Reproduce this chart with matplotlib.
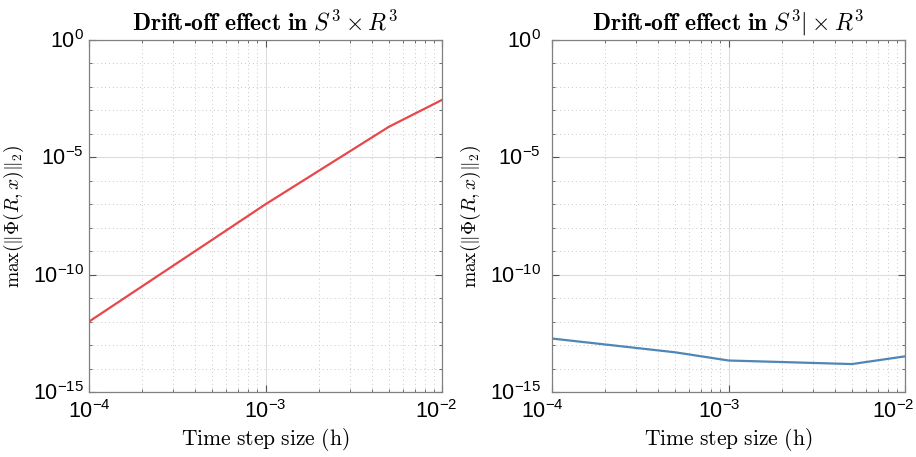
import matplotlib
matplotlib.use("Agg")
import matplotlib.pyplot as plt
import matplotlib.transforms as mtransforms
from matplotlib.ticker import LogLocator, FixedLocator, NullFormatter, LogFormatterSciNotation
import numpy as np

h = [1e-4, 5e-4, 1e-3, 5e-3, 1e-2]
err_left = [1.0e-12, 3.1e-9, 1.0e-7, 2.0e-4, 2.8e-3]
err_right = [1.9e-13, 4.9e-14, 2.2e-14, 1.55e-14, 3.3e-14]
titles = ["$\\mathbf{Drift\u2010off\\ effect\\ in}\\ S^3\\times R^3$",
          "$\\mathbf{Drift\u2010off\\ effect\\ in}\\ S^3|\\times R^3$"]
colors = ["#e8474a", "#4f86b6"]
xlabel = r"$\mathrm{Time\ step\ size\ (h)}$"
ylabel = r"$\max(\|\Phi(R,x)\|_2)$"

plt.rcParams["mathtext.fontset"] = "custom"
plt.rcParams["mathtext.rm"] = "Liberation Sans"
plt.rcParams["mathtext.it"] = "Liberation Sans:italic"
plt.rcParams["mathtext.bf"] = "Liberation Sans:bold"
plt.rcParams["font.family"] = "Liberation Sans"

fig = plt.figure(figsize=(9.16, 4.57), dpi=100)
positions = [[89/916, 65/457, 353/916, 352/457], [552/916, 65/457, 353/916, 352/457]]
series = [err_left, err_right]
xoffs = [[0, 0, -6], [-10, -9, -12]]
yoffs = [0, -6]
axes = []
for i in range(2):
    ax = fig.add_axes(positions[i])
    axes.append(ax)
    ax.plot(h, series[i], color=colors[i], lw=1.6)
    ax.set_xscale("log")
    ax.set_yscale("log")
    ax.set_xlim(1e-4, 1e-2)
    ax.set_ylim(1e-15, 1e0)
    ax.xaxis.set_major_locator(FixedLocator([1e-4, 1e-3, 1e-2]))
    ax.xaxis.set_minor_locator(LogLocator(base=10, subs=np.arange(2, 10)))
    ax.xaxis.set_minor_formatter(NullFormatter())
    ax.yaxis.set_major_locator(FixedLocator([1e-15, 1e-10, 1e-5, 1e0]))
    ax.yaxis.set_minor_locator(FixedLocator([10.0**k for k in range(-15, 1)]))
    ax.yaxis.set_minor_formatter(NullFormatter())
    ax.xaxis.set_major_formatter(LogFormatterSciNotation())
    ax.yaxis.set_major_formatter(LogFormatterSciNotation())
    ax.grid(True, which="major", color="#dcdcdc", lw=0.8, ls="-")
    ax.grid(True, which="minor", color="#c8c8c8", lw=0.7, ls=(0, (1, 3)))
    ax.set_axisbelow(True)
    ax.tick_params(which="both", direction="in", top=True, right=True, colors="#555555",
                   labelcolor="black", labelsize=15.5)
    ax.tick_params(axis="x", which="major", pad=6)
    ax.tick_params(which="major", length=5)
    ax.tick_params(which="minor", length=2.5)
    for s in ax.spines.values():
        s.set_color("#808080")
        s.set_linewidth(0.9)
    ax.set_title(titles[i], fontsize=17, math_fontfamily="cm", pad=7)
    ax.set_xlabel(xlabel, fontsize=15.5, math_fontfamily="cm", labelpad=2)
    ax.set_ylabel(ylabel, fontsize=14, math_fontfamily="cm", labelpad=5)

fig.canvas.draw()
for i, ax in enumerate(axes):
    for lab, dx in zip(ax.get_xticklabels(), xoffs[i]):
        lab.set_transform(lab.get_transform() + mtransforms.ScaledTranslation(dx / 100, 0, fig.dpi_scale_trans))
    for lab in ax.get_yticklabels():
        lab.set_transform(lab.get_transform() + mtransforms.ScaledTranslation(yoffs[i] / 100, 1 / 100, fig.dpi_scale_trans))

fig.savefig("out.png", dpi=100)
